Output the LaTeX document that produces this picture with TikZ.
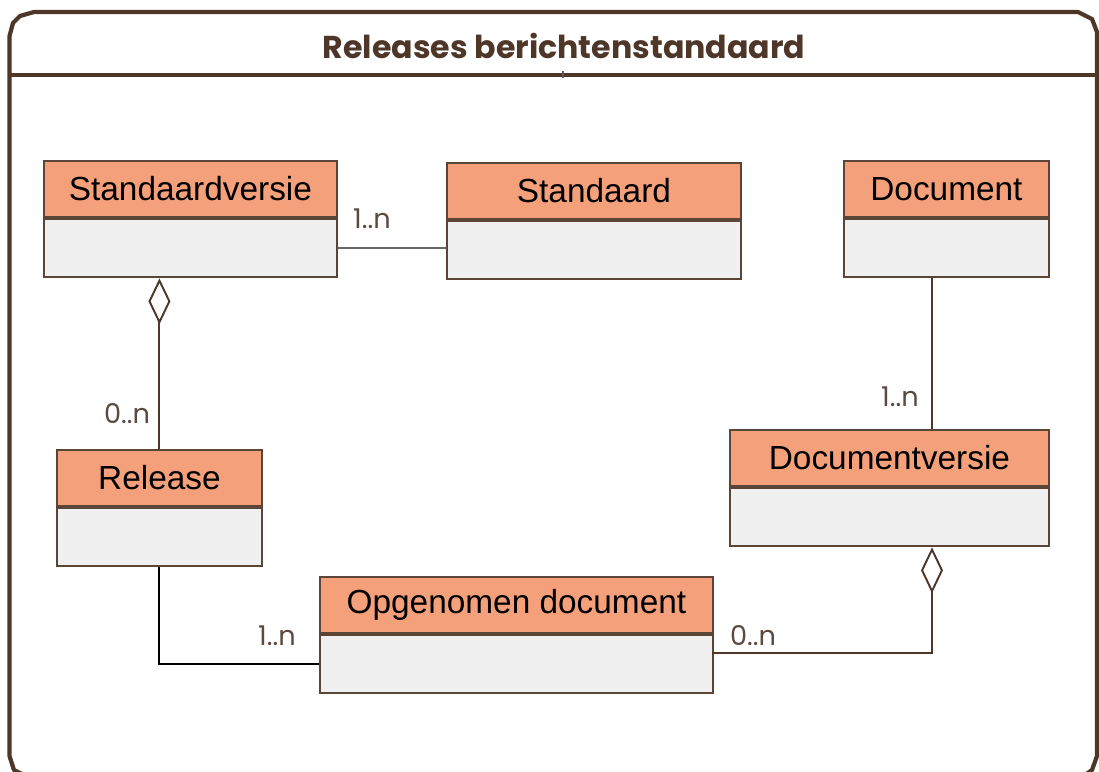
\documentclass[tikz,border=0pt]{standalone}
\usepackage{fontspec}
\setmainfont{Liberation Sans}
\newfontfamily\titelfont{Poppins}
\usepackage{tikz}
\usetikzlibrary{arrows.meta,positioning,calc}
\definecolor{kader}{HTML}{4E3629}
\definecolor{rand}{HTML}{5B4536}
\definecolor{kopkleur}{HTML}{F4A07B}
\definecolor{rompkleur}{HTML}{F0F0F0}
\definecolor{multkleur}{HTML}{5A4A42}
\tikzset{
  kop/.style={draw=rand, fill=kopkleur, line width=1.1pt, minimum height=1.12cm, inner sep=0pt, anchor=north west, font=\fontsize{19}{22}\selectfont},
  romp/.style={draw=rand, fill=rompkleur, line width=1.1pt, minimum height=1.17cm, inner sep=0pt},
  mult/.style={font=\titelfont\fontsize{15.5}{17}\selectfont, text=multkleur},
  verbinding/.style={draw=kader, line width=1.1pt},
  aggregatie/.style={verbinding, -{Diamond[open, length=0.92cm, width=0.44cm, line width=1.1pt]}}
}

\begin{document}
\begin{tikzpicture}[x=0.02cm,y=-0.02cm]
\useasboundingbox (0,0) rectangle (1099,771);
\draw[kader, line width=2.4pt, line join=round] (9.5,36) -- (13,23) -- (20,16) -- (34,12) -- (1078,12) -- (1092,19) -- (1097,32) -- (1097,756) -- (1092,770) -- (1078,780) -- (34,780) -- (14,770) -- (9.5,756) -- cycle;
\draw[kader, line width=2.4pt] (9.5,75) -- (1097,75);
\draw[gray!70!black, line width=0.6pt] (563,71) -- (563,78);
\node[text=kader, font=\titelfont\bfseries\fontsize{18}{21}\selectfont] (titel) at (564,46) {Releases berichtenstandaard};

\node[kop, minimum width=5.86cm] (standaardversie) at (43,160) {Standaardversie};
\node[romp, minimum width=5.86cm, below=0pt of standaardversie] (standaardversie-romp) {};
\node[kop, minimum width=5.88cm] (standaard) at (446,162) {Standaard};
\node[romp, minimum width=5.88cm, below=0pt of standaard] (standaard-romp) {};
\node[kop, minimum width=4.10cm] (document) at (843,160) {Document};
\node[romp, minimum width=4.10cm, below=0pt of document] (document-romp) {};
\node[kop, minimum width=4.10cm] (release) at (56,449) {Release};
\node[romp, minimum width=4.10cm, below=0pt of release] (release-romp) {};
\node[kop, minimum width=6.38cm] (documentversie) at (729,429) {Documentversie};
\node[romp, minimum width=6.38cm, below=0pt of documentversie] (documentversie-romp) {};
\node[kop, minimum width=7.86cm] (opgenomen) at (319,576) {Opgenomen document};
\node[romp, minimum width=7.86cm, below=0pt of opgenomen] (opgenomen-romp) {};

\coordinate (docas) at (932,0);
\coordinate (opg-rechts) at (712,653);

\draw[gray!80!black, line width=1.1pt] (standaardversie-romp.east) -- (standaardversie-romp.east -| standaard-romp.west);
\draw[aggregatie] (release.north) -- (release.north |- standaardversie-romp.south);
\draw[verbinding] (docas |- document-romp.south) -- (docas |- documentversie.north);
\draw[aggregatie] (opg-rechts) -| (docas |- documentversie-romp.south);
\draw[black, line width=1.1pt] (release-romp.south) |- (opgenomen-romp.west);

\node[mult] (m-standaard) at (372,219) {1..n};
\node[mult] (m-release) at (127,414) {0..n};
\node[mult] (m-document) at (900,397) {1..n};
\node[mult] (m-docversie) at (753,636) {0..n};
\node[mult] (m-opgenomen) at (277,636) {1..n};
\end{tikzpicture}
\end{document}
